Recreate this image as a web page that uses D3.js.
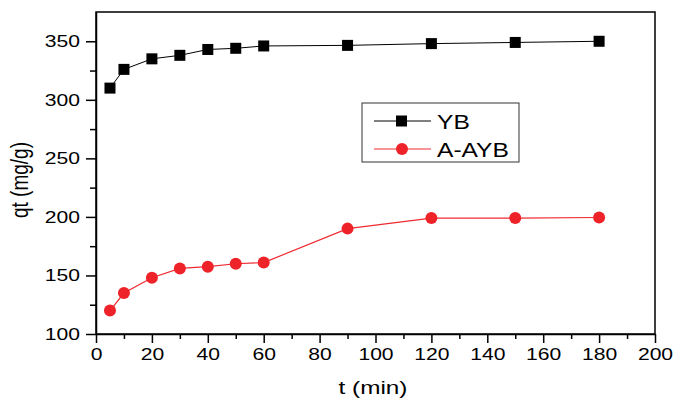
<!DOCTYPE html>
<html>
<head>
<meta charset="utf-8">
<script src="https://cdn.jsdelivr.net/npm/d3@7"></script>
<style>
  body { margin: 0; background: #fff; }
  text { font-family: "Liberation Sans", Arial, sans-serif; fill: #000; }
</style>
</head>
<body>
<script>
// data
const time = [5, 10, 20, 30, 40, 50, 60, 90, 120, 150, 180]
const yb = [310, 326, 335, 338, 343, 344, 346, 346.5, 348, 349, 350]
const aayb = [120, 135, 148, 156, 157.5, 160, 161, 190, 199, 199, 199.5]
const xTicks = [0, 20, 40, 60, 80, 100, 120, 140, 160, 180, 200]
const yTicks = [100, 150, 200, 250, 300, 350]

const W = 674, H = 404
const mLeft = 96, mRight = 655, mTop = 12, mBottom = 334
const sx = 1.28 // the original image is stretched sideways

const svg = d3.select("body").append("svg")
    .attr("width", W)
    .attr("height", H)

const x = d3.scaleLinear().domain([0, 200]).range([mLeft, mRight])
const y = d3.scaleLinear().domain([100, 375]).range([mBottom, mTop])

// frame
svg.append("rect")
    .attr("x", mLeft).attr("y", mTop)
    .attr("width", mRight - mLeft).attr("height", mBottom - mTop)
    .attr("fill", "none").attr("stroke", "#000").attr("stroke-width", 1.5)

// minor ticks
const xMinor = d3.range(10, 200, 20)
const yMinor = d3.range(125, 375, 50)

svg.append("g")
    .attr("transform", `translate(0,${mBottom})`)
    .call(d3.axisBottom(x).tickValues(xMinor).tickSize(5).tickFormat(""))
    .call(g => g.select(".domain").remove())
svg.append("g")
    .attr("transform", `translate(${mLeft},0)`)
    .call(d3.axisLeft(y).tickValues(yMinor).tickSize(6).tickFormat(""))
    .call(g => g.select(".domain").remove())

// major axes
const xAxis = svg.append("g")
    .attr("transform", `translate(0,${mBottom})`)
    .call(d3.axisBottom(x).tickValues(xTicks).tickSize(9).tickPadding(5).tickSizeOuter(0))
xAxis.selectAll("text")
    .attr("font-size", 16.5)
    .attr("y", 14)
    .attr("transform", `scale(${sx},1)`)
    .style("font-family", "Liberation Sans, Arial, sans-serif")

const yAxis = svg.append("g")
    .attr("transform", `translate(${mLeft},0)`)
    .call(d3.axisLeft(y).tickValues(yTicks).tickSize(10).tickPadding(5).tickSizeOuter(0))
yAxis.selectAll("text")
    .attr("font-size", 16.5)
    .attr("x", -16 / sx)
    .attr("transform", `scale(${sx},1)`)
    .style("font-family", "Liberation Sans, Arial, sans-serif")

svg.selectAll(".tick line").attr("stroke-width", 1.5)
svg.selectAll(".domain").attr("stroke-width", 1.5)

// axis titles
svg.append("text")
    .attr("transform", `translate(373,394) scale(${sx},1)`)
    .attr("text-anchor", "middle")
    .attr("font-size", 19)
    .text("t (min)")

svg.append("text")
    .attr("transform", `translate(28,180) rotate(-90) scale(1,${sx})`)
    .attr("text-anchor", "middle")
    .attr("font-size", 19)
    .text("qt (mg/g)")

// series
const line = d3.line().x(d => x(d[0])).y(d => y(d[1]))

svg.append("path")
    .datum(time.map((t, i) => [t, yb[i]]))
    .attr("d", line)
    .attr("fill", "none").attr("stroke", "#000").attr("stroke-width", 1)

svg.selectAll(".sq")
    .data(time.map((t, i) => [t, yb[i]]))
    .enter().append("rect")
    .attr("x", d => x(d[0]) - 5.5)
    .attr("y", d => y(d[1]) - 5.5)
    .attr("width", 11).attr("height", 11)
    .attr("fill", "#000")

svg.append("path")
    .datum(time.map((t, i) => [t, aayb[i]]))
    .attr("d", line)
    .attr("fill", "none").attr("stroke", "#ee2a30").attr("stroke-width", 1.2)

svg.selectAll(".dot")
    .data(time.map((t, i) => [t, aayb[i]]))
    .enter().append("circle")
    .attr("cx", d => x(d[0]))
    .attr("cy", d => y(d[1]))
    .attr("r", 6)
    .attr("fill", "#ee2229")

// legend
const lg = svg.append("g")
lg.append("rect")
    .attr("x", 362).attr("y", 103)
    .attr("width", 157).attr("height", 59)
    .attr("fill", "#fff").attr("stroke", "#333").attr("stroke-width", 1)

lg.append("line").attr("x1", 374).attr("x2", 431).attr("y1", 121).attr("y2", 121)
    .attr("stroke", "#000").attr("stroke-width", 1)
lg.append("rect").attr("x", 396).attr("y", 115.5).attr("width", 11).attr("height", 11).attr("fill", "#000")
lg.append("text")
    .attr("transform", `translate(437,128.5) scale(${sx * 0.96},1)`)
    .attr("font-size", 20).text("YB")

lg.append("line").attr("x1", 374).attr("x2", 431).attr("y1", 149).attr("y2", 149)
    .attr("stroke", "#ee2a30").attr("stroke-width", 1.2)
lg.append("circle").attr("cx", 402).attr("cy", 149).attr("r", 6).attr("fill", "#ee2229")
lg.append("text")
    .attr("transform", `translate(437,156.5) scale(${sx * 0.96},1)`)
    .attr("font-size", 20).text("A-AYB")
</script>
</body>
</html>
